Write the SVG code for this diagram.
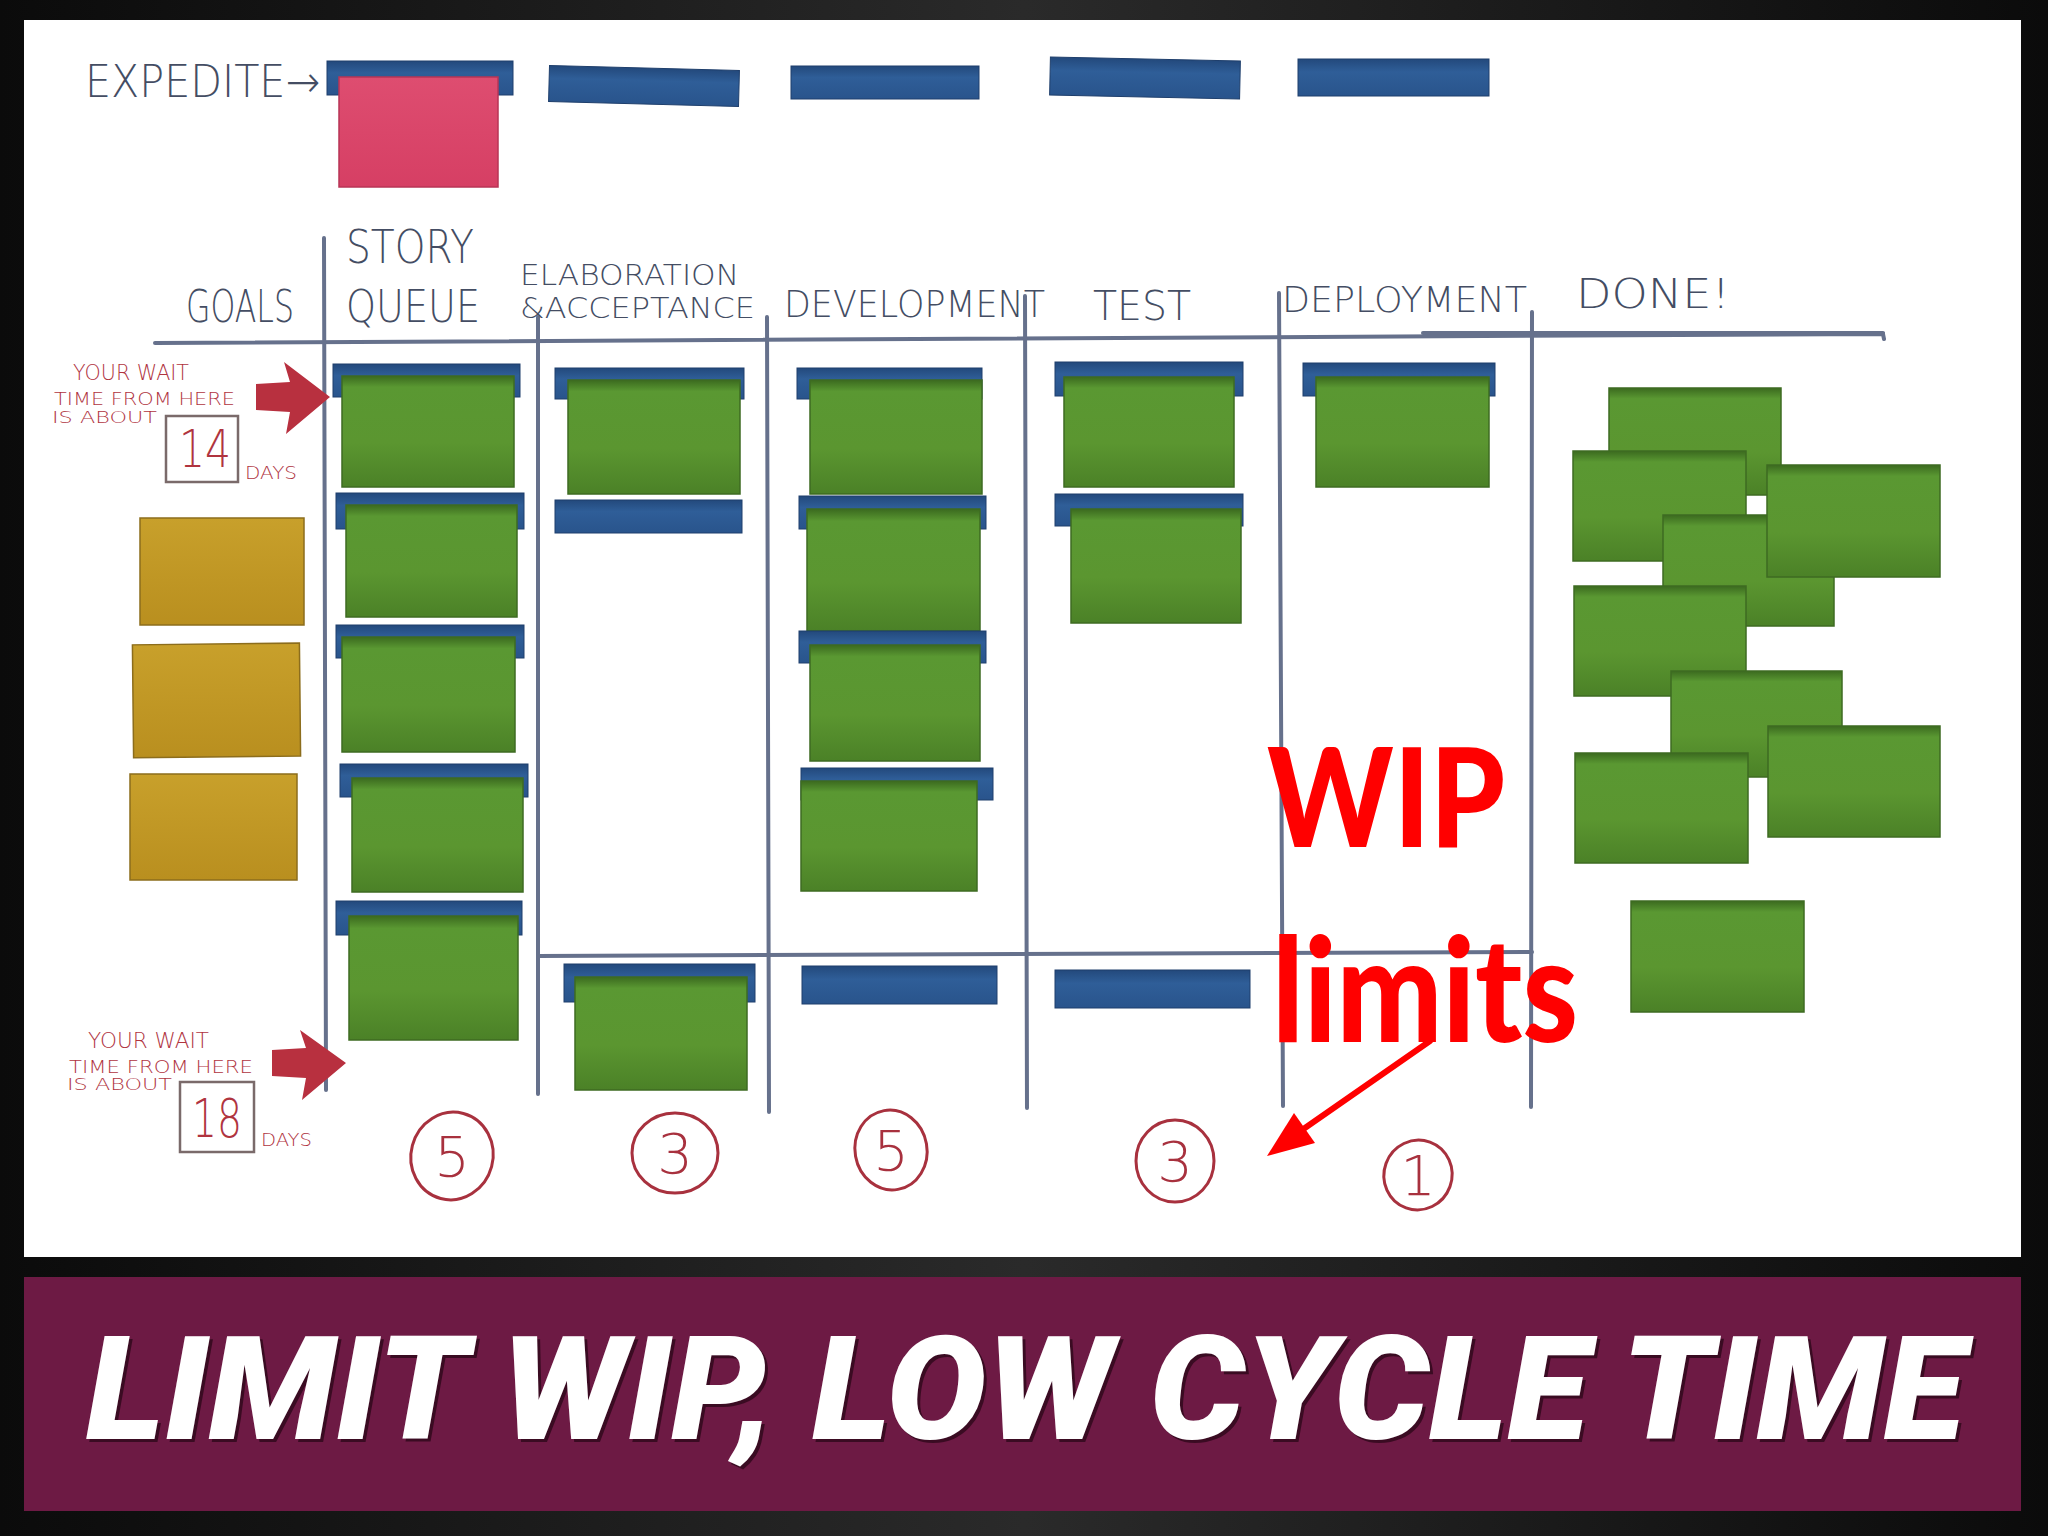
<svg xmlns="http://www.w3.org/2000/svg" width="2048" height="1536" viewBox="0 0 2048 1536">
<defs>
<linearGradient id="gBg" x1="0" y1="0" x2="1" y2="0">
<stop offset="0" stop-color="#0b0b0b"/><stop offset="0.5" stop-color="#2a2a2a"/><stop offset="1" stop-color="#0b0b0b"/>
</linearGradient>
<linearGradient id="gGreen" x1="0" y1="0" x2="0" y2="1">
<stop offset="0" stop-color="#3b6a1f"/><stop offset="0.1" stop-color="#5a9832"/><stop offset="0.6" stop-color="#5b9630"/><stop offset="1" stop-color="#4b8127"/>
</linearGradient>
<linearGradient id="gBlue" x1="0" y1="0" x2="0" y2="1">
<stop offset="0" stop-color="#23497c"/><stop offset="0.35" stop-color="#2f5e98"/><stop offset="1" stop-color="#29548c"/>
</linearGradient>
<linearGradient id="gYellow" x1="0" y1="0" x2="0" y2="1">
<stop offset="0" stop-color="#c8a02b"/><stop offset="1" stop-color="#b98f1f"/>
</linearGradient>
<linearGradient id="gPink" x1="0" y1="0" x2="0" y2="1">
<stop offset="0" stop-color="#de4d70"/><stop offset="1" stop-color="#d63f64"/>
</linearGradient>
<style>
.blue{fill:url(#gBlue);stroke:#1f3f6c;stroke-width:1}
.green{fill:url(#gGreen);stroke:#3e6b22;stroke-width:1.5}
.yellow{fill:url(#gYellow);stroke:#8c6d1c;stroke-width:1.5}
.pink{fill:url(#gPink);stroke:#b83456;stroke-width:1.5}
.line{stroke:#66718c;stroke-width:4;fill:none;stroke-linecap:round}
.hw{font-family:"DejaVu Sans",sans-serif;font-weight:300;fill:#444d63}
.rd{font-family:"DejaVu Sans",sans-serif;font-weight:300;fill:#b0343f}
.circ{fill:none;stroke:#a8313e;stroke-width:3}
.num{font-family:"DejaVu Sans",sans-serif;font-weight:200;fill:#a8313e;font-size:56px;text-anchor:middle}
.wip{font-family:Lato,"Open Sans",sans-serif;font-weight:900;fill:#ff0000}
</style>
</defs>

<rect x="0" y="0" width="2048" height="1536" fill="url(#gBg)"/>
<rect x="24" y="20" width="1997" height="1237" fill="#ffffff"/>

<g id="board-lines">
<path class="line" d="M155,343 L1883,334 L1884,339"/>
<path class="line" d="M1423,333 L1883,333" stroke-width="2"/>
<path class="line" d="M538,956 L1532,952"/>
<path class="line" d="M324,238 L326,1090"/>
<path class="line" d="M538,317 L538,1094"/>
<path class="line" d="M767,317 L769,1112"/>
<path class="line" d="M1025,296 L1027,1108"/>
<path class="line" d="M1279,293 L1283,1106"/>
<path class="line" d="M1532,312 L1531,1107"/>
</g>

<g id="headers">
<text class="hw" x="85" y="97" font-size="44" textLength="235" lengthAdjust="spacingAndGlyphs">EXPEDITE→</text>
<text class="hw" x="186" y="322" font-size="44" textLength="108" lengthAdjust="spacingAndGlyphs">GOALS</text>
<text class="hw" x="346" y="263" font-size="46" textLength="128" lengthAdjust="spacingAndGlyphs">STORY</text>
<text class="hw" x="346" y="322" font-size="44" textLength="134" lengthAdjust="spacingAndGlyphs">QUEUE</text>
<text class="hw" x="520" y="285" font-size="29" textLength="219" lengthAdjust="spacingAndGlyphs">ELABORATION</text>
<text class="hw" x="520" y="318" font-size="29" textLength="235" lengthAdjust="spacingAndGlyphs">&amp;ACCEPTANCE</text>
<text class="hw" x="784" y="317" font-size="37" textLength="261" lengthAdjust="spacingAndGlyphs">DEVELOPMENT</text>
<text class="hw" x="1093" y="320" font-size="40" textLength="98" lengthAdjust="spacingAndGlyphs">TEST</text>
<text class="hw" x="1282" y="312" font-size="35" textLength="245" lengthAdjust="spacingAndGlyphs">DEPLOYMENT</text>
<text class="hw" x="1576" y="308" font-size="40" textLength="154" lengthAdjust="spacingAndGlyphs">DONE!</text>
</g>

<g id="expedite-lane">
<rect class="blue" x="327" y="61" width="186" height="34"/>
<rect class="pink" x="339" y="77" width="159" height="110"/>
<rect class="blue" x="549" y="68" width="190" height="36" transform="rotate(1.5 644 86)"/>
<rect class="blue" x="791" y="66" width="188" height="33"/>
<rect class="blue" x="1050" y="59" width="190" height="38" transform="rotate(1.2 1145 78)"/>
<rect class="blue" x="1298" y="59" width="191" height="37"/>
</g>

<g id="goals">
<rect class="yellow" x="140" y="518" width="164" height="107"/>
<rect class="yellow" x="133" y="644" width="167" height="113" transform="rotate(-0.6 216 700)"/>
<rect class="yellow" x="130" y="774" width="167" height="106"/>
</g>

<g id="wait-top">
<text class="rd" x="73" y="380" font-size="22" textLength="116" lengthAdjust="spacingAndGlyphs">YOUR WAIT</text>
<text class="rd" x="54" y="405" font-size="17" textLength="181" lengthAdjust="spacingAndGlyphs">TIME FROM HERE</text>
<text class="rd" x="52" y="423" font-size="15" textLength="105" lengthAdjust="spacingAndGlyphs">IS ABOUT</text>
<rect x="166" y="416" width="72" height="66" fill="none" stroke="#7a6a6a" stroke-width="2.5"/>
<text class="rd" x="179" y="467" font-size="52" textLength="52" lengthAdjust="spacingAndGlyphs">14</text>
<text class="rd" x="245" y="479" font-size="18" textLength="52" lengthAdjust="spacingAndGlyphs">DAYS</text>
<path d="M256,384 L290,382 L284,362 L330,397 L286,434 L290,412 L256,410 Z" fill="#b8303f"/>
</g>
<g id="wait-bottom">
<text class="rd" x="88" y="1048" font-size="22" textLength="121" lengthAdjust="spacingAndGlyphs">YOUR WAIT</text>
<text class="rd" x="69" y="1073" font-size="17" textLength="184" lengthAdjust="spacingAndGlyphs">TIME FROM HERE</text>
<text class="rd" x="67" y="1090" font-size="15" textLength="105" lengthAdjust="spacingAndGlyphs">IS ABOUT</text>
<rect x="180" y="1082" width="74" height="70" fill="none" stroke="#7a6a6a" stroke-width="2.5"/>
<text class="rd" x="192" y="1137" font-size="54" textLength="50" lengthAdjust="spacingAndGlyphs">18</text>
<text class="rd" x="261" y="1146" font-size="18" textLength="51" lengthAdjust="spacingAndGlyphs">DAYS</text>
<path d="M272,1050 L306,1048 L300,1030 L346,1063 L302,1100 L306,1078 L272,1076 Z" fill="#b8303f"/>
</g>

<g id="story-queue">
<rect class="blue" x="333" y="364" width="187" height="33"/><rect class="green" x="342" y="376" width="172" height="111"/>
<rect class="blue" x="336" y="493" width="188" height="36"/><rect class="green" x="346" y="505" width="171" height="112"/>
<rect class="blue" x="336" y="625" width="188" height="33"/><rect class="green" x="342" y="637" width="173" height="115"/>
<rect class="blue" x="340" y="764" width="188" height="33"/><rect class="green" x="352" y="778" width="171" height="114"/>
<rect class="blue" x="336" y="901" width="186" height="34"/><rect class="green" x="349" y="916" width="169" height="124"/>
</g>

<g id="elaboration">
<rect class="blue" x="555" y="368" width="189" height="31"/><rect class="green" x="568" y="380" width="172" height="114"/>
<rect class="blue" x="555" y="500" width="187" height="33"/>
<rect class="blue" x="564" y="964" width="191" height="38"/><rect class="green" x="575" y="977" width="172" height="113"/>
</g>

<g id="development">
<rect class="blue" x="797" y="368" width="185" height="31"/><rect class="green" x="810" y="380" width="172" height="114"/>
<rect class="blue" x="799" y="496" width="187" height="33"/><rect class="green" x="807" y="509" width="173" height="122"/>
<rect class="blue" x="799" y="631" width="187" height="32"/><rect class="green" x="810" y="645" width="170" height="116"/>
<rect class="blue" x="801" y="768" width="192" height="32"/><rect class="green" x="801" y="781" width="176" height="110"/>
<rect class="blue" x="802" y="966" width="195" height="38"/>
</g>

<g id="test">
<rect class="blue" x="1055" y="362" width="188" height="34"/><rect class="green" x="1064" y="377" width="170" height="110"/>
<rect class="blue" x="1055" y="494" width="188" height="32"/><rect class="green" x="1071" y="509" width="170" height="114"/>
<rect class="blue" x="1055" y="970" width="195" height="38"/>
</g>

<g id="deployment">
<rect class="blue" x="1303" y="363" width="192" height="33"/><rect class="green" x="1316" y="377" width="173" height="110"/>
</g>

<g id="done">
<rect class="green" x="1609" y="388" width="172" height="107"/>
<rect class="green" x="1573" y="451" width="173" height="110"/>
<rect class="green" x="1663" y="515" width="171" height="111"/>
<rect class="green" x="1767" y="465" width="173" height="112"/>
<rect class="green" x="1574" y="586" width="172" height="110"/>
<rect class="green" x="1671" y="671" width="171" height="106"/>
<rect class="green" x="1575" y="753" width="173" height="110"/>
<rect class="green" x="1768" y="726" width="172" height="111"/>
<rect class="green" x="1631" y="901" width="173" height="111"/>
</g>

<g id="wip-numbers">
<ellipse class="circ" cx="452" cy="1156" rx="41" ry="44" transform="rotate(15 452 1156)"/>
<text class="num" x="452" y="1176">5</text>
<ellipse class="circ" cx="675" cy="1153" rx="43" ry="40"/>
<text class="num" x="675" y="1173">3</text>
<ellipse class="circ" cx="891" cy="1150" rx="36" ry="40" transform="rotate(-10 891 1150)"/>
<text class="num" x="891" y="1170">5</text>
<ellipse class="circ" cx="1175" cy="1161" rx="39" ry="41"/>
<text class="num" x="1175" y="1181">3</text>
<ellipse class="circ" cx="1418" cy="1175" rx="34" ry="35" transform="rotate(20 1418 1175)"/>
<text class="num" x="1418" y="1195">1</text>
</g>

<g id="wip-label">
<text class="wip" x="1267" y="847" font-size="138" textLength="238" lengthAdjust="spacingAndGlyphs">WIP</text>
<text class="wip" x="1272" y="1042" font-size="145" textLength="306" lengthAdjust="spacingAndGlyphs">limits</text>
</g>

<g id="connectors">
<line x1="1430" y1="1041" x2="1302" y2="1130" stroke="#ff0000" stroke-width="6" stroke-linecap="round"/>
<path d="M1267,1156 L1294,1113 L1315,1143 Z" fill="#ff0000"/>
</g>

<g id="banner">
<rect x="24" y="1277" width="1997" height="234" fill="#6d1a44"/>
<text x="89" y="1442" font-family="Roboto,'Liberation Sans',sans-serif" font-weight="900" font-style="italic" font-size="145" fill="#3a0b22" textLength="1879" lengthAdjust="spacingAndGlyphs">LIMIT WIP, LOW CYCLE TIME</text>
<text x="86" y="1439" font-family="Roboto,'Liberation Sans',sans-serif" font-weight="900" font-style="italic" font-size="145" fill="#ffffff" textLength="1879" lengthAdjust="spacingAndGlyphs">LIMIT WIP, LOW CYCLE TIME</text>
</g>
</svg>
